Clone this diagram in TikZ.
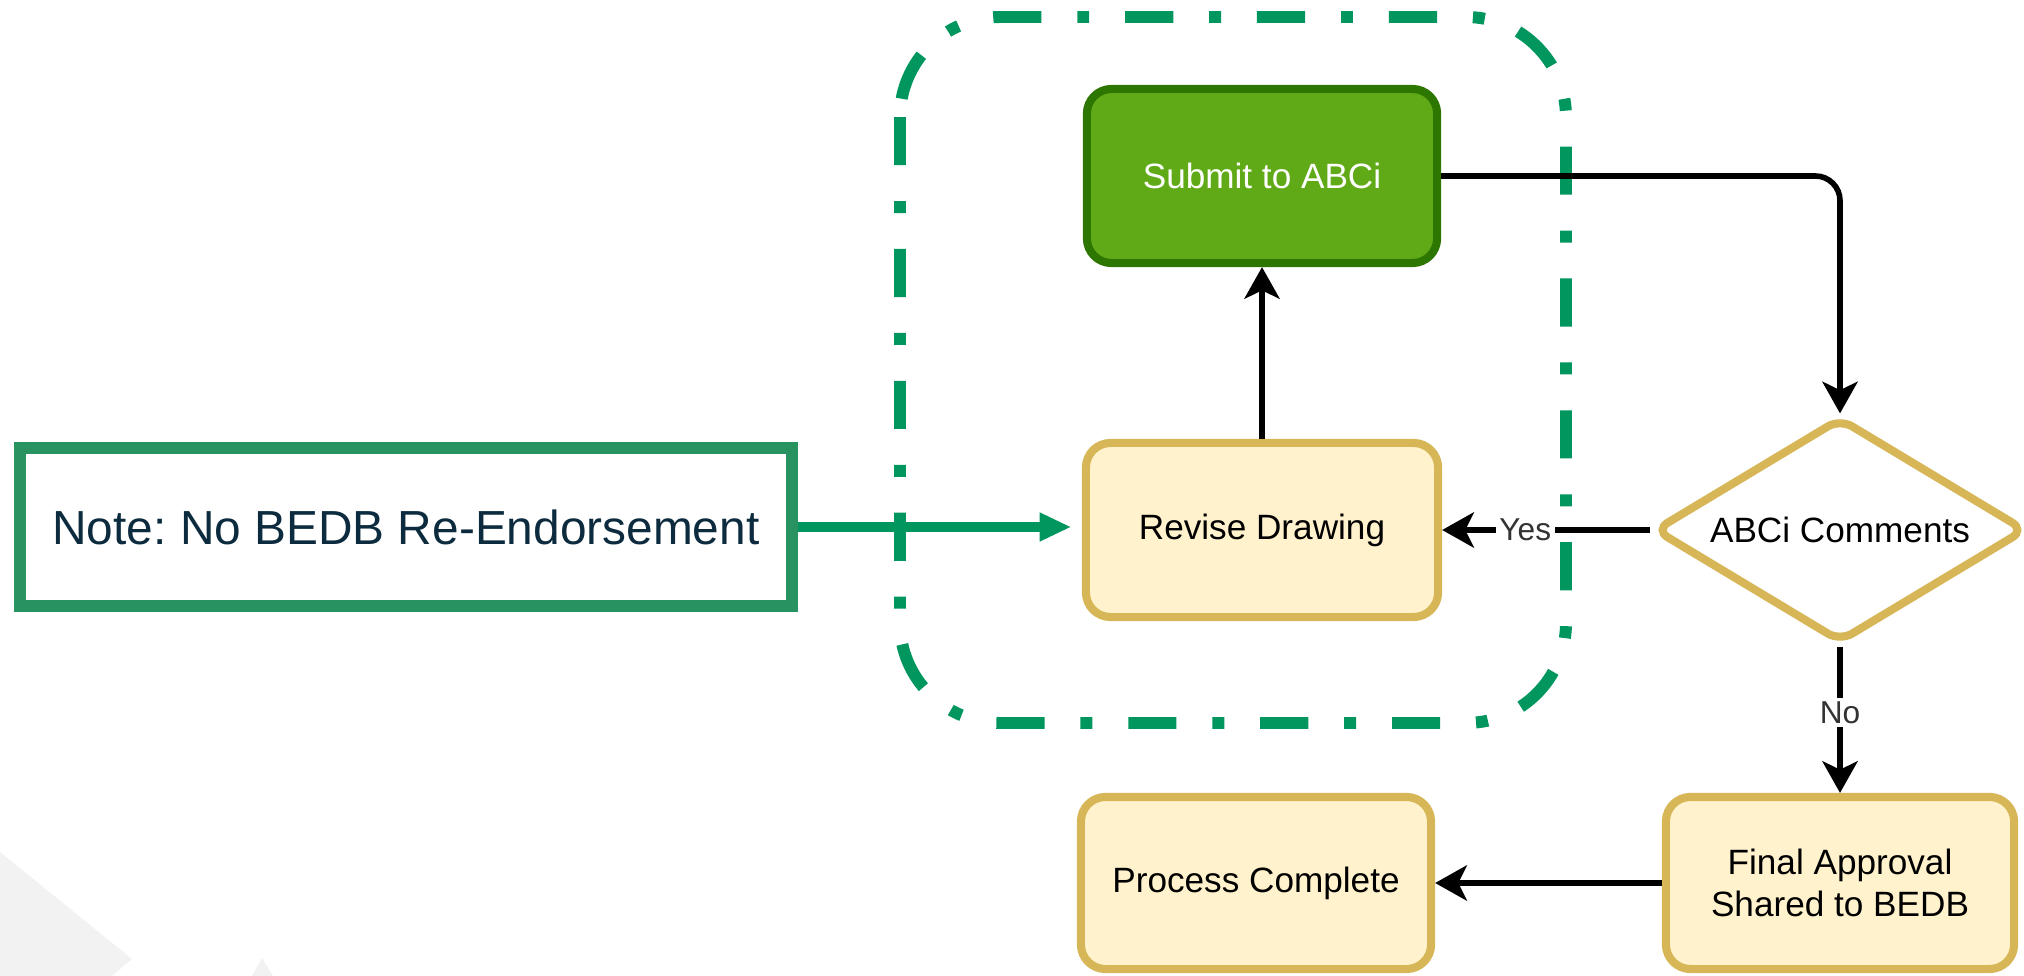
\documentclass[tikz,border=0pt]{standalone}
\usepackage{fontspec}
\setmainfont{Liberation Sans}
\usetikzlibrary{shapes.geometric,arrows.meta}
\definecolor{subfill}{HTML}{60A917}
\definecolor{subline}{HTML}{2D7600}
\definecolor{boxfill}{HTML}{FFF2CC}
\definecolor{boxline}{HTML}{D6B656}
\definecolor{notegreen}{RGB}{40,146,96}
\definecolor{framegreen}{RGB}{0,150,94}
\definecolor{notetext}{RGB}{13,43,62}
\definecolor{bggray}{HTML}{F2F2F2}
\frenchspacing

\begin{document}
\begin{tikzpicture}[x=0.01cm, y=0.01cm]
      \tikzstyle{every node}+=[inner sep=0pt]
      \tikzstyle{stepbox}=[draw=boxline, fill=boxfill, line width=2.3pt, rounded corners=7pt, minimum width=3.5cm, minimum height=1.74cm, align=center, font=\fontsize{10}{12}\selectfont]
      \tikzstyle{subbox}=[stepbox, draw=subline, fill=subfill, text=white]
      \tikzstyle{choice}=[diamond, aspect=1.65, draw=boxline, fill=white, line width=2.3pt, rounded corners=4pt, minimum width=3.72cm, minimum height=2.25cm, font=\fontsize{10}{12}\selectfont]
      \tikzstyle{notebox}=[draw=notegreen, line width=3.4pt, minimum width=7.71cm, minimum height=1.58cm, text=notetext, font=\fontsize{13.6}{16}\selectfont]
      \tikzstyle{link}=[black, line width=1.6pt, -{Stealth[length=9pt, width=10pt, inset=2.4pt]}]
      \tikzstyle{notelink}=[framegreen, line width=2.6pt, -{Triangle[length=9pt, width=7.6pt]}, shorten >=3pt]
      \tikzstyle{lbl}=[fill=white, inner sep=1pt, text=black!80, font=\fontsize{9}{10}\selectfont]
      \tikzstyle{frame}=[framegreen, line width=3.4pt, dash pattern=on 13.7pt off 10.2pt on 3.4pt off 10.2pt]
      \useasboundingbox (0,0) rectangle (2024,-976);
      \fill [bggray] (0,-852) -- (132,-959) -- (112,-976) -- (0,-976) -- cycle;
      \fill [bggray] (252,-976) -- (262,-958) -- (273,-976) -- cycle;
      \draw [frame, rounded corners=1cm] (900,-17) rectangle (1566,-723);
      \node [subbox] (submit) at (1262,-176) {Submit to ABCi};
      \node [stepbox, minimum width=3.52cm] (revise) at (1262,-530) {Revise Drawing};
      \node [choice] (comments) at (1840,-530) {ABCi Comments};
      \node [stepbox, minimum width=3.48cm, minimum height=1.72cm] (final) at (1840,-883) {Final Approval\\Shared to BEDB};
      \node [stepbox, minimum height=1.72cm] (process) at (1256,-883) {Process Complete};
      \node [notebox] (note) at (406,-527) {Note: No BEDB Re-Endorsement};
      \draw [link] (revise) -- (submit);
      \draw [link, rounded corners=7pt] (submit.east) -| (comments.north);
      \draw [link] (comments.west) -- node [lbl, pos=0.6] {Yes} (revise.east);
      \draw [link] (comments.south) -- node [lbl, pos=0.45] {No} (final.north);
      \draw [link] (final.west) -- (process.east);
      \draw [notelink] (note.east) -- (note.east -| revise.west);
\end{tikzpicture}
\end{document}
